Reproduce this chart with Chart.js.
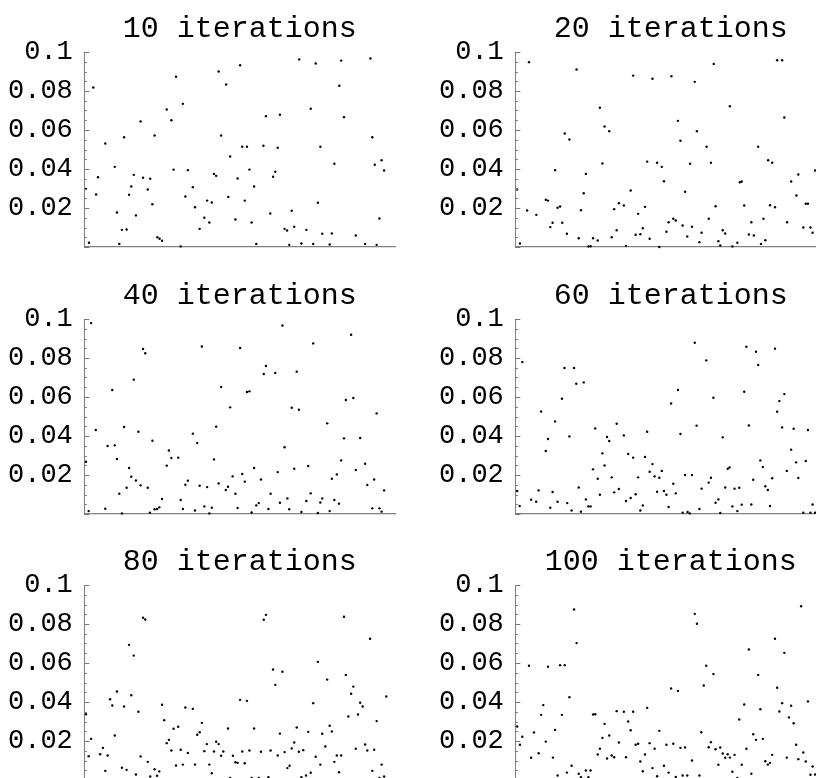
<!DOCTYPE html>
<html>
<head>
<meta charset="utf-8">
<script src="https://cdn.jsdelivr.net/npm/chart.js@4.4.1/dist/chart.umd.min.js"></script>
<style>
  html, body { margin: 0; padding: 0; background: #fff; }
  #wrap { position: relative; width: 816px; height: 778px; overflow: hidden; background: #fff; }
  #wrap canvas { position: absolute; }
</style>
</head>
<body>
<div id="wrap">
  <canvas id="c10" width="431" height="267" style="left:0;top:0"></canvas>
  <canvas id="c20" width="431" height="267" style="left:431px;top:0"></canvas>
  <canvas id="c40" width="431" height="267" style="left:0;top:267px"></canvas>
  <canvas id="c60" width="431" height="267" style="left:431px;top:267px"></canvas>
  <canvas id="c80" width="431" height="267" style="left:0;top:533px"></canvas>
  <canvas id="c100" width="431" height="267" style="left:431px;top:533px"></canvas>
</div>
<script>
// titres des panneaux
const panelTitles = ['10 iterations', '20 iterations', '40 iterations', '60 iterations', '80 iterations', '100 iterations'];

// graduations de l'axe y
const yTickValues = [0.02, 0.04, 0.06, 0.08, 0.1];
const yTickLabels = ['0.02', '0.04', '0.06', '0.08', '0.1'];

// points [x, y] (x sur 0..100, axe sans graduation)
const pts10 = [[0.55,.0298],[1.5,.0022],[2.9,.0818],[3.8,.0269],[4.4,.0358],[6.75,.0531],[9.8,.0411],[10.5,.0177],[11.25,.0016],[12.1,.0088],[12.8,.0563],[13.6,.0090],[14.4,.0268],[15.1,.0310],[15.9,.0370],[16.6,.0162],[18.1,.0644],[18.9,.0355],[20.4,.0295],[21.2,.0350],[21.9,.0219],[22.6,.0572],[23.5,.0050],[24.2,.0042],[25.0,.0032],[26.5,.0705],[28.0,.0650],[28.7,.0397],[29.5,.0873],[31.0,.0003],[31.7,.0734],[32.5,.0259],[33.3,.0394],[34.9,.0307],[35.6,.0204],[37.1,.0093],[38.6,.0150],[39.5,.0238],[40.2,.0126],[41.0,.0228],[41.7,.0375],[42.4,.0365],[43.2,.0900],[44.0,.0572],[45.6,.0833],[46.3,.0257],[46.9,.0464],[48.6,.0141],[49.3,.0351],[50.1,.0932],[50.8,.0514],[51.6,.0238],
  [52.3,.0514],[53.1,.0397],[53.8,.0126],[54.6,.0310],[55.3,.0016],[57.6,.0519],[58.4,.0671],[59.8,.0172],[60.7,.0360],[61.4,.0386],[62.2,.0509],[62.9,.0678],[64.4,.0093],[65.2,.0085],[65.9,.0011],[66.7,.0186],[67.5,.0104],[69.1,.0962],[69.8,.0018],[71.4,.0088],[72.8,.0709],[73.6,.0016],[74.4,.0941],[75.1,.0227],[75.9,.0514],[76.5,.0068],[78.9,.0013],[79.6,.0069],[80.4,.0427],[82.0,.0827],[82.6,.0956],[83.5,.0666],[87.3,.0059],[90.3,.0016],[92.0,.0967],[92.6,.0563],[93.4,.0422],[94.0,.0011],[94.9,.0146],[95.6,.0445],[96.4,.0392]];

const pts20 = [[0.6,.0295],[1.5,.0018],[3.8,.0187],[4.4,.0948],[6.75,.0165],[9.8,.0242],[10.5,.0238],[11.25,.0102],[12.0,.0124],[12.8,.0394],[13.6,.0201],[14.4,.0208],[15.1,.0124],[15.9,.0582],[16.6,.0068],[17.4,.0551],[19.7,.0910],[20.4,.0045],[21.1,.0189],[22.0,.0276],[22.7,.0375],[23.5,.0003],[24.2,.0004],[25.0,.0045],[26.5,.0033],[27.2,.0714],[28.0,.0428],[28.7,.0618],[30.2,.0594],[31.0,.0050],[31.8,.0194],[32.6,.0086],[33.3,.0225],[34.9,.0213],[35.6,.0006],[37.1,.0290],[37.9,.0879],[38.7,.0063],[39.5,.0170],[40.2,.0066],[41.0,.0096],[41.7,.0206],[42.4,.0438],[43.2,.0042],[44.1,.0863],[45.6,.0432],[46.3,.0000],[47.1,.0411],[47.8,.0337],[48.6,.0078],
  [49.3,.0127],[50.2,.0876],[50.8,.0145],[51.6,.0136],[52.3,.0647],[53.1,.0545],[53.8,.0110],[54.6,.0283],[55.3,.0054],[56.2,.0427],[56.8,.0104],[57.7,.0847],[58.4,.0594],[59.2,.0025],[59.9,.0073],[61.5,.0514],[62.2,.0145],[62.9,.0432],[63.8,.0939],[64.4,.0209],[65.3,.0030],[65.9,.0008],[66.7,.0086],[67.5,.0069],[69.0,.0722],[69.8,.0003],[71.4,.0022],[72.2,.0332],[72.8,.0336],[73.6,.0213],[75.1,.0064],[75.9,.0127],[76.7,.0059],[78.1,.0514],[79.0,.0016],[79.8,.0145],[80.4,.0035],[81.3,.0445],[81.9,.0214],[82.6,.0432],[83.5,.0204],[84.2,.0958],[85.8,.0958],[86.5,.0664],[87.4,.0127],[88.7,.0336],[90.4,.0264],[91.0,.0372],[92.6,.0100],[93.4,.0222],[94.1,.0222],[94.9,.0100],[95.6,.0073],[96.4,.0392]];

const pts40 = [[0.55,.0268],[1.4,.0015],[2.2,.0979],[3.7,.0431],[6.75,.0027],[7.5,.0349],[9.0,.0636],[9.8,.0352],[10.5,.0282],[11.25,.0104],[12.1,.0003],[12.8,.0446],[13.6,.0135],[14.4,.0236],[15.1,.0191],[15.9,.0689],[16.6,.0172],[17.4,.0422],[18.1,.0147],[18.9,.0846],[19.6,.0824],[20.4,.0135],[21.1,.0007],[21.9,.0376],[22.6,.0024],[23.4,.0026],[24.1,.0034],[25.0,.0077],[26.5,.0248],[27.2,.0326],[28.0,.0287],[30.2,.0289],[31.0,.0072],[31.7,.0026],[32.5,.0150],[33.3,.0171],[34.9,.0412],[35.6,.0018],[36.3,.0364],[37.1,.0145],[37.8,.0859],[38.6,.0039],[39.5,.0138],[40.2,.0003],[41.0,.0032],[41.7,.0280],[42.4,.0448],[43.2,.0157],[44.0,.0651],[45.5,.0123],[46.2,.0140],[46.9,.0547],[47.7,.0193],[48.6,.0104],[49.3,.0031],[50.1,.0851],[50.8,.0205],[51.6,.0166],
  [52.3,.0626],[53.1,.0629],[53.8,.0008],[54.6,.0236],[55.3,.0044],[56.1,.0056],[56.8,.0177],[57.7,.0718],[58.4,.0759],[59.2,.0026],[59.9,.0104],[61.4,.0723],[62.2,.0215],[62.9,.0058],[63.7,.0967],[64.4,.0342],[65.3,.0080],[65.9,.0024],[66.7,.0545],[67.5,.0232],[68.3,.0730],[69.0,.0535],[69.8,.0010],[71.4,.0067],[72.0,.0246],[72.8,.0106],[73.6,.0875],[75.1,.0005],[75.9,.0059],[76.5,.0080],[78.1,.0465],[78.9,.0015],[79.6,.0181],[80.4,.0072],[81.2,.0203],[81.9,.0053],[82.6,.0275],[83.5,.0388],[84.1,.0585],[85.8,.0919],[86.5,.0595],[87.3,.0226],[88.7,.0390],[90.3,.0258],[91.0,.0149],[92.6,.0029],[93.2,.0177],[94.0,.0516],[94.9,.0029],[95.6,.0012],[96.4,.0121]];

const pts60 = [[0.6,.0118],[1.4,.0041],[2.25,.0779],[5.1,.0073],[6.7,.0063],[7.5,.0121],[8.3,.0526],[9.8,.0323],[10.5,.0385],[11.25,.0032],[12.0,.0113],[12.8,.0475],[13.6,.0063],[15.0,.0591],[15.8,.0749],[16.7,.0056],[17.4,.0398],[18.1,.0018],[18.9,.0749],[19.6,.0668],[20.4,.0136],[21.1,.0012],[22.0,.0675],[22.7,.0075],[23.5,.0039],[24.2,.0039],[25.0,.0229],[25.7,.0439],[26.5,.0181],[27.2,.0099],[28.0,.0311],[28.7,.0249],[29.5,.0395],[30.2,.0374],[31.0,.0188],[31.8,.0111],[32.6,.0463],[33.3,.0128],[34.9,.0403],[35.6,.0067],[36.3,.0308],[37.1,.0082],[37.9,.0289],[38.7,.0101],[39.5,.0188],[40.2,.0018],[41.0,.0044],[41.7,.0292],[42.4,.0422],[43.2,.0217],[44.1,.0256],[44.8,.0193],[45.6,.0114],[46.3,.0186],[47.1,.0221],[47.8,.0118],[48.6,.0099],
  [49.3,.0036],[50.1,.0567],[50.8,.0155],[51.6,.0106],[52.3,.0636],[53.1,.0410],[53.8,.0007],[54.6,.0200],[55.4,.0010],[56.1,.0003],[56.8,.0200],[57.7,.0878],[58.3,.0453],[59.2,.0026],[59.9,.0130],[61.4,.0788],[62.2,.0161],[62.9,.0186],[63.7,.0596],[64.4,.0058],[65.3,.0075],[65.9,.0005],[66.7,.0393],[67.5,.0136],[68.3,.0232],[68.9,.0239],[69.8,.0039],[70.5,.0130],[71.4,.0015],[72.0,.0135],[72.8,.0048],[73.6,.0627],[74.3,.0858],[75.1,.0454],[75.9,.0049],[76.5,.0176],[77.4,.0832],[78.1,.0764],[78.8,.0275],[79.6,.0241],[80.4,.0142],[81.2,.0123],[81.9,.0041],[82.6,.0183],[83.5,.0848],[84.2,.0525],[84.9,.0579],[85.8,.0444],[86.5,.0615],[87.3,.0221],[88.7,.0330],[89.5,.0437],[90.3,.0265],[91.0,.0185],[92.6,.0007],[93.4,.0272],[94.1,.0431],[94.9,.0007],[95.6,.0049],[96.4,.0007]];

const pts80 = [[0.55,.0337],[1.4,.0122],[2.2,.0211],[5.1,.0132],[6.0,.0165],[6.75,.0047],[7.5,.0126],[8.3,.0414],[9.0,.0382],[9.8,.0228],[10.5,.0454],[12.1,.0063],[12.8,.0377],[13.6,.0052],[14.4,.0693],[15.1,.0435],[15.9,.0638],[16.6,.0028],[17.4,.0350],[18.1,.0121],[18.9,.0832],[19.6,.0823],[20.4,.0093],[21.2,.0018],[22.6,.0055],[23.4,.0022],[24.1,.0044],[25.0,.0386],[25.7,.0307],[26.5,.0189],[27.2,.0206],[28.0,.0151],[28.7,.0263],[29.5,.0074],[30.2,.0273],[31.0,.0155],[31.7,.0079],[32.5,.0372],[33.3,.0139],[34.9,.0365],[35.6,.0079],[36.3,.0232],[37.1,.0245],[37.8,.0293],[38.6,.0148],[39.4,.0184],[40.2,.0079],[41.0,.0035],[41.7,.0146],[42.4,.0196],[43.2,.0184],[44.0,.0124],[44.7,.0146],[46.2,.0264],[46.9,.0011],[47.8,.0124],[48.6,.0091],[49.3,.0088],[50.1,.0411],[50.8,.0146],[51.6,.0086],
  [52.3,.0406],[53.1,.0151],[53.8,.0011],[54.6,.0264],[56.1,.0011],[56.8,.0145],[57.7,.0822],[58.4,.0847],[59.2,.0014],[59.9,.0151],[60.7,.0567],[61.4,.0488],[62.2,.0126],[62.9,.0238],[63.7,.0555],[64.4,.0143],[65.3,.0061],[66.0,.0073],[66.7,.0162],[67.5,.0192],[68.3,.0269],[69.0,.0145],[69.8,.0014],[70.4,.0153],[71.3,.0023],[72.0,.0247],[72.8,.0037],[73.6,.0394],[74.4,.0119],[75.1,.0606],[75.9,.0079],[76.5,.0237],[77.5,.0172],[78.1,.0515],[78.9,.0278],[79.6,.0249],[80.4,.0093],[81.2,.0126],[81.9,.0040],[82.6,.0126],[83.5,.0837],[84.1,.0539],[84.9,.0326],[85.8,.0442],[86.5,.0479],[87.3,.0160],[88.0,.0336],[88.7,.0396],[89.5,.0377],[90.3,.0182],[91.0,.0151],[91.9,.0724],[92.6,.0047],[93.2,.0155],[94.0,.0302],[94.9,.0011],[95.6,.0079],[96.4,.0018],[97.1,.0428]];

const pts100 = [[0.6,.0274],[1.5,.0181],[2.25,.0222],[4.4,.0586],[5.1,.0114],[6.0,.0244],[7.5,.0137],[8.3,.0334],[9.0,.0384],[9.8,.0197],[10.5,.0581],[12.1,.0115],[12.8,.0257],[13.6,.0023],[14.4,.0589],[15.0,.0334],[15.9,.0589],[16.6,.0038],[17.4,.0425],[18.1,.0073],[18.9,.0874],[19.7,.0702],[20.4,.0032],[21.1,.0014],[22.7,.0049],[23.5,.0014],[24.2,.0049],[25.0,.0336],[25.7,.0337],[26.5,.0131],[27.2,.0160],[28.0,.0216],[28.7,.0288],[29.5,.0110],[30.2,.0228],[31.0,.0126],[31.8,.0117],[32.6,.0353],[33.3,.0192],[34.9,.0350],[35.6,.0117],[36.3,.0300],[37.1,.0255],[37.9,.0350],[38.7,.0181],[39.5,.0186],[40.2,.0095],[41.0,.0045],[41.7,.0131],[42.4,.0370],[43.2,.0189],[44.1,.0061],[44.8,.0160],[45.6,.0019],[46.3,.0252],[47.8,.0073],[48.6,.0181],
  [49.3,.0038],[50.1,.0469],[50.8,.0186],[51.6,.0016],[52.3,.0457],[53.1,.0165],[53.8,.0023],[54.6,.0167],[55.3,.0023],[56.8,.0100],[57.7,.0852],[58.4,.0801],[59.2,.0023],[59.8,.0245],[60.6,.0485],[61.4,.0586],[62.2,.0168],[62.9,.0194],[63.7,.0543],[64.4,.0158],[65.3,.0078],[65.9,.0167],[66.7,.0136],[67.5,.0114],[68.3,.0132],[69.0,.0115],[69.8,.0042],[70.5,.0129],[71.4,.0011],[72.0,.0310],[72.8,.0078],[73.6,.0387],[74.3,.0160],[75.1,.0669],[75.9,.0032],[76.5,.0235],[77.4,.0206],[78.1,.0539],[78.8,.0363],[79.6,.0211],[80.4,.0096],[81.2,.0079],[81.9,.0088],[82.6,.0129],[83.5,.0724],[84.2,.0473],[84.9,.0351],[85.8,.0394],[86.5,.0652],[87.3,.0115],[88.0,.0321],[88.7,.0381],[89.5,.0291],[90.3,.0181],[91.0,.0107],[91.9,.0891],[92.6,.0141],[93.4,.0095],[94.1,.0403],[94.9,.0027],[95.6,.0069],[96.4,.0028]];

const panelPoints = [pts10, pts20, pts40, pts60, pts80, pts100];
const canvasIds = ['c10', 'c20', 'c40', 'c60', 'c80', 'c100'];

const MONO = '"Liberation Mono", "Courier New", monospace';

// titre centré sur la zone du graphe + petites graduations vers l'intérieur
const panelDecor = {
  id: 'panelDecor',
  afterDraw(chart, args, opts) {
    const { ctx, chartArea } = chart;
    const y = chart.scales.y;
    ctx.save();
    ctx.strokeStyle = '#777';
    ctx.lineWidth = 1;
    for (let i = 0; i <= 20; i++) {
      const py = Math.round(y.getPixelForValue(i * 0.005)) + 0.5;
      const len = (i % 4 === 0) ? 5 : 2.5;
      ctx.beginPath();
      ctx.moveTo(chartArea.left, py);
      ctx.lineTo(chartArea.left + len, py);
      ctx.stroke();
    }
    ctx.fillStyle = '#000';
    ctx.font = '30px ' + MONO;
    ctx.textAlign = 'center';
    ctx.textBaseline = 'alphabetic';
    ctx.fillText(opts.text, (chartArea.left + chartArea.right) / 2, 36.5);
    ctx.restore();
  }
};

function makePanel(id, title, pts) {
  return new Chart(document.getElementById(id), {
    type: 'scatter',
    data: {
      datasets: [{
        data: pts.map(p => ({ x: p[0], y: p[1] })),
        pointRadius: 1.2,
        pointHoverRadius: 1.2,
        backgroundColor: '#000',
        borderWidth: 0,
        clip: false
      }]
    },
    options: {
      responsive: false,
      animation: false,
      events: [],
      layout: { padding: { top: 52, right: 35.7, bottom: 0, left: 0 } },
      plugins: {
        legend: { display: false },
        tooltip: { enabled: false },
        panelDecor: { text: title }
      },
      scales: {
        x: {
          type: 'linear', min: 0, max: 100,
          ticks: { display: false },
          grid: { display: false },
          border: { display: true, color: '#808080', width: 1.2 },
          afterFit: s => { s.height = 20; }
        },
        y: {
          type: 'linear', min: 0, max: 0.1,
          afterBuildTicks: s => { s.ticks = yTickValues.map(v => ({ value: v })); },
          ticks: {
            color: '#000',
            padding: 3.5,
            font: { family: MONO, size: 27 },
            callback: v => yTickLabels[yTickValues.indexOf(v)]
          },
          grid: { display: false },
          border: { display: true, color: '#808080', width: 1 },
          afterFit: s => { s.width = 84.3; }
        }
      }
    },
    plugins: [panelDecor]
  });
}

canvasIds.forEach((id, i) => makePanel(id, panelTitles[i], panelPoints[i]));
</script>
</body>
</html>
